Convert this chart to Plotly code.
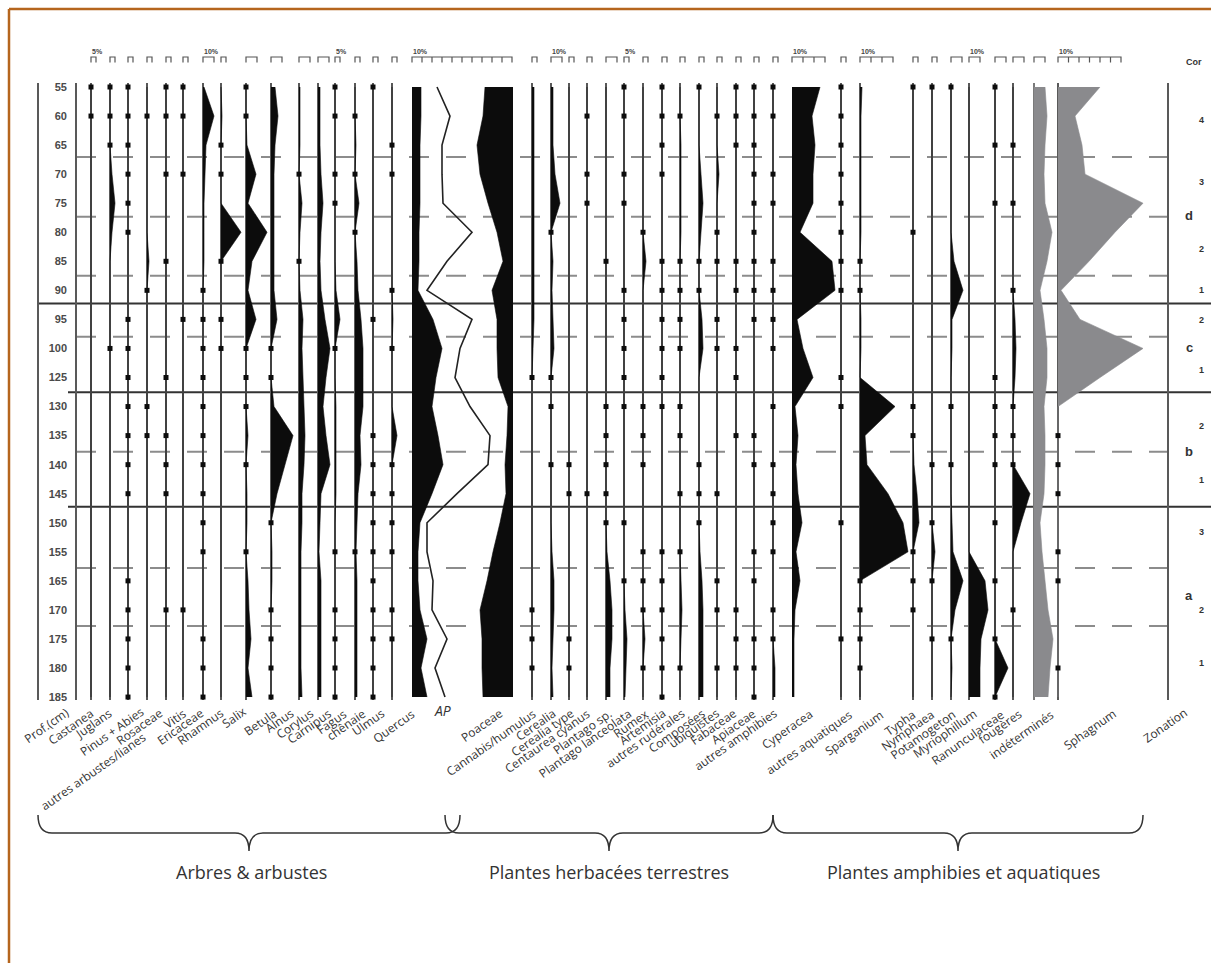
import plotly.graph_objects as go

W, H = 1211, 963
Y0, DY = 87.0, 29.05   # pixel row of the first sample level and level spacing


def py(y_px):
    """pixel row -> category index on the depth axis"""
    return (y_px - Y0) / DY


# ---------------- data ----------------
depths = [55, 60, 65, 70, 75, 80, 85, 90, 95, 100, 125, 130, 135, 140, 145, 150, 155, 165, 170, 175, 180, 185]

taxa = ["Castanea", "Juglans", "Pinus + Abies", "autres arbustes/lianes", "Rosaceae", "Vitis",
        "Ericaceae", "Rhamnus", "Salix", "Betula", "Alnus", "Corylus", "Carnipus", "Fagus",
        "chênaie", "Ulmus", "Quercus", "Poaceae", "Cannabis/humulus", "Cerealia", "Cerealia type",
        "Centaurea cyanus", "Plantago sp.", "Plantago lanceolata", "Rumex", "Artemisia",
        "autres rudérales", "Composées", "ubiquistes", "Fabaceae", "Apiaceae", "autres amphibies",
        "Cyperacea", "autres aquatiques", "Sparganium", "Typha", "Nymphaea", "Potamogeton",
        "Myriophillum", "Ranunculaceae", "fougères", "indéterminés", "Sphagnum"]

castanea      = [0, 0, 0, 0, 0, 0, 0, 0, 0, 0, 0, 0, 0, 0, 0, 0, 0, 0, 0, 0, 0, 0]
juglans       = [0, 0, 0, 2, 5, 2, 0, 0, 0, 0, 0, 0, 0, 0, 0, 0, 0, 0, 0, 0, 0, 0]
pinus_abies   = [0, 0, 0, 0, 0, 0, 0, 0, 0, 0, 0, 0, 0, 0, 0, 0, 0, 0, 0, 0, 0, 0]
autres_arb    = [0, 0, 0, 0, 0, 0, 2, 0, 0, 0, 0, 0, 0, 0, 0, 0, 0, 0, 0, 0, 0, 0]
rosaceae      = [0, 0, 0, 0, 0, 0, 0, 0, 0, 0, 0, 0, 0, 0, 0, 0, 0, 0, 0, 0, 0, 0]
vitis         = [0, 0, 0, 0, 0, 0, 0, 0, 0, 0, 0, 0, 0, 0, 0, 0, 0, 0, 0, 0, 0, 0]
ericaceae     = [1, 11, 3, 2, 1, 1, 1, 0, 0, 0, 0, 0, 0, 0, 0, 0, 0, 0, 0, 0, 0, 0]
rhamnus       = [0, 1, 0, 0, 0, 20, 0, 0, 0, 0, 0, 0, 0, 0, 0, 0, 0, 0, 0, 0, 0, 0]
salix         = [0, 0, 1, 10, 2, 21, 6, 2, 10, 0, 0, 0, 2, 0, 1, 1, 0, 2, 3, 5, 2, 6]
betula        = [4, 7, 4, 3, 3, 3, 3, 3, 6, 0, 0, 3, 22, 14, 6, 0, 1, 1, 0, 0, 0, 0]
alnus         = [1, 1, 1, 0, 3, 1, 0, 1, 4, 3, 4, 5, 6, 5, 3, 3, 2, 2, 2, 2, 2, 3]
corylus       = [2, 2, 2, 3, 5, 3, 2, 3, 7, 12, 8, 5, 8, 12, 3, 2, 1, 3, 3, 3, 3, 3]
carnipus      = [0, 0, 0, 0, 0, 0, 0, 1, 5, 0, 0, 1, 1, 1, 1, 0, 0, 0, 0, 0, 0, 0]
fagus         = [0, 0, 1, 0, 4, 0, 2, 3, 6, 8, 8, 8, 5, 6, 3, 2, 1, 2, 2, 2, 2, 2]
chenaie       = [0, 0, 0, 0, 0, 0, 0, 0, 0, 0, 0, 0, 0, 0, 0, 0, 0, 0, 0, 0, 0, 0]
ulmus         = [0, 0, 0, 0, 0, 0, 0, 0, 1, 0, 0, 0, 5, 0, 0, 0, 0, 0, 0, 0, 0, 0]
quercus       = [9, 9, 8, 8, 8, 7, 7, 6, 21, 30, 24, 20, 26, 31, 20, 8, 6, 6, 8, 15, 9, 15]
ap_curve      = [25, 38, 30, 30, 31, 60, 35, 15, 60, 48, 43, 58, 78, 76, 45, 15, 15, 21, 20, 35, 23, 33]
poaceae       = [28, 30, 36, 33, 25, 16, 10, 21, 16, 16, 15, 5, 6, 8, 7, 13, 20, 26, 33, 31, 31, 30]
cannabis      = [2, 2, 2, 2, 2, 2, 2, 2, 2, 1, 0, 0, 0, 0, 0, 0, 0, 0, 0, 0, 0, 0]
cerealia      = [2, 2, 2, 4, 9, 0, 2, 1, 2, 3, 0, 0, 0, 0, 0, 0, 1, 3, 3, 2, 1, 2]
cerealia_type = [0, 0, 0, 0, 0, 0, 0, 0, 0, 0, 0, 0, 0, 0, 0, 0, 0, 0, 0, 0, 0, 0]
centaurea     = [0, 0, 0, 0, 0, 0, 0, 0, 0, 0, 0, 0, 0, 0, 0, 0, 0, 0, 0, 0, 0, 0]
plantago_sp   = [0, 0, 0, 0, 0, 0, 0, 0, 0, 0, 0, 0, 0, 0, 0, 0, 1, 4, 6, 6, 4, 4]
plantago_lanc = [0, 0, 0, 0, 0, 0, 0, 0, 0, 0, 0, 0, 0, 0, 0, 0, 0, 0, 1, 3, 2, 1]
rumex         = [0, 0, 0, 0, 0, 0, 3, 0, 0, 0, 0, 0, 0, 0, 0, 0, 0, 0, 0, 2, 0, 0]
artemisia     = [0, 0, 0, 0, 0, 0, 0, 0, 0, 0, 0, 0, 0, 0, 0, 0, 0, 0, 0, 0, 0, 0]
ruderales     = [0, 0, 1, 1, 1, 1, 0, 0, 0, 0, 0, 0, 0, 0, 0, 0, 0, 1, 2, 1, 0, 0]
composees     = [0, 0, 0, 2, 4, 2, 0, 0, 3, 4, 0, 0, 0, 0, 0, 0, 1, 3, 4, 4, 4, 4]
ubiquistes    = [0, 0, 0, 2, 0, 0, 0, 0, 0, 0, 0, 0, 0, 0, 0, 0, 0, 0, 0, 0, 0, 0]
fabaceae      = [0, 0, 0, 0, 0, 0, 0, 0, 0, 0, 0, 0, 0, 0, 0, 0, 0, 0, 0, 0, 0, 0]
apiaceae      = [0, 0, 0, 0, 0, 0, 0, 0, 0, 0, 0, 0, 0, 0, 0, 0, 0, 0, 0, 0, 0, 0]
amphibies     = [0, 0, 0, 0, 0, 0, 0, 0, 0, 0, 0, 0, 0, 0, 0, 0, 0, 0, 0, 0, 2, 2]
cyperacea     = [28, 20, 23, 21, 21, 8, 40, 43, 5, 11, 21, 3, 6, 4, 6, 10, 4, 8, 3, 2, 2, 2]
aquatiques    = [0, 0, 0, 0, 0, 0, 0, 0, 0, 0, 0, 0, 0, 0, 0, 0, 0, 0, 0, 0, 0, 0]
sparganium    = [2, 1, 1, 1, 1, 1, 0, 0, 1, 1, 0, 35, 5, 7, 28, 43, 48, 0, 0, 0, 0, 0]
typha         = [0, 0, 0, 0, 0, 0, 0, 0, 0, 0, 0, 0, 0, 1, 4, 6, 0, 0, 0, 0, 0, 0]
nymphaea      = [0, 0, 0, 0, 0, 0, 0, 0, 0, 0, 0, 0, 0, 0, 0, 0, 3, 0, 0, 0, 0, 0]
potamogeton   = [0, 0, 0, 0, 0, 0, 3, 12, 1, 1, 0, 0, 0, 0, 0, 1, 2, 12, 4, 0, 1, 0]
myriophillum  = [0, 0, 0, 0, 0, 0, 0, 0, 0, 0, 0, 0, 0, 0, 0, 0, 0, 16, 19, 12, 11, 11]
ranunculaceae = [0, 0, 0, 0, 0, 0, 0, 0, 0, 0, 0, 0, 0, 0, 0, 0, 0, 0, 0, 0, 13, 0]
fougeres      = [0, 0, 0, 0, 0, 0, 0, 0, 2, 3, 2, 0, 0, 0, 17, 8, 0, 0, 0, 0, 0, 0]
indetermines  = [11, 13, 11, 10, 11, 18, 13, 6, 10, 13, 13, 10, 11, 11, 10, 6, 8, 11, 14, 19, 16, 14]
sphagnum      = [42, 17, 24, 27, 85, 57, 31, 3, 22, 85, 42, 0, 0, 0, 0, 0, 0, 0, 0, 0, 0, 0]

values = [castanea, juglans, pinus_abies, autres_arb, rosaceae, vitis, ericaceae, rhamnus, salix,
          betula, alnus, corylus, carnipus, fagus, chenaie, ulmus, quercus, poaceae, cannabis,
          cerealia, cerealia_type, centaurea, plantago_sp, plantago_lanc, rumex, artemisia,
          ruderales, composees, ubiquistes, fabaceae, apiaceae, amphibies, cyperacea, aquatiques,
          sparganium, typha, nymphaea, potamogeton, myriophillum, ranunculaceae, fougeres,
          indetermines, sphagnum]

# presence (<1 %) dots, by depth
dots = [
    [55, 60],                                                              # Castanea
    [55, 60, 65, 100],                                                     # Juglans
    [55, 60, 65, 70, 75, 80, 95, 100, 125, 130, 135, 140, 145, 165, 170, 175, 180, 185],
    [60, 90, 130, 135],                                                    # autres arbustes
    [55, 60, 70, 85, 125, 135, 140, 145, 170],                             # Rosaceae
    [55, 60, 70, 95, 170],                                                 # Vitis
    [90, 95, 100, 125, 130, 135, 140, 145, 150, 155, 175, 180, 185],       # Ericaceae
    [65, 70, 85, 95, 100],                                                 # Rhamnus
    [55, 60, 100, 125, 130, 140, 155],                                     # Salix
    [100, 125, 150, 170, 175, 180, 185],                                   # Betula
    [70, 85],                                                              # Alnus
    [],                                                                    # Corylus
    [55, 60, 70, 75, 100, 155, 170, 175, 180, 185],                        # Carnipus
    [60, 70, 80, 155],                                                     # Fagus
    [55, 95, 135, 140, 145, 150, 155, 165, 170, 175, 180, 185],            # chênaie
    [65, 70, 90, 100, 140, 145, 150, 155, 170, 175],                       # Ulmus
    [],                                                                    # Quercus
    [],                                                                    # Poaceae
    [125, 170, 175, 180],                                                  # Cannabis
    [80, 125, 130, 140],                                                   # Cerealia
    [140, 145, 175, 180],                                                  # Cerealia type
    [60, 70, 75, 145],                                                     # Centaurea
    [85, 130, 135, 140, 145, 150],                                         # Plantago sp.
    [55, 60, 70, 75, 90, 95, 100, 125, 130, 150, 165],                     # Plantago lanc.
    [80, 130, 135, 140, 155, 165, 170, 180],                               # Rumex
    [55, 60, 65, 70, 85, 90, 95, 100, 125, 130, 155, 165, 170, 175, 180, 185],
    [60, 85, 90, 95, 100, 130, 135, 145, 155, 180],                        # rudérales
    [55, 85, 90, 140, 145, 150],                                           # Composées
    [60, 80, 85, 95, 100, 145, 165, 170, 180],                             # ubiquistes
    [55, 60, 65, 85, 90, 100, 125, 135, 170, 175, 180],                    # Fabaceae
    [55, 60, 65, 70, 75, 80, 85, 90, 95, 135, 140, 155, 165, 175, 180, 185],
    [55, 60, 70, 75, 85, 90, 95, 100, 130, 140, 145, 150, 155, 170, 175],  # amphibies
    [],                                                                    # Cyperacea
    [55, 60, 65, 70, 75, 80, 85, 90, 125, 130, 150, 175],                  # aquatiques
    [85, 90, 165, 170, 175, 180],                                          # Sparganium
    [55, 80, 130, 135, 155, 165, 170],                                     # Typha
    [55, 140, 150, 165, 175],                                              # Nymphaea
    [55, 130, 140, 175],                                                   # Potamogeton
    [],                                                                    # Myriophillum
    [55, 65, 75, 125, 130, 135, 140, 150, 165, 175, 185],                  # Ranunculaceae
    [65, 75, 90, 130, 135, 140, 170],                                      # fougères
    [],                                                                    # indéterminés
    [135, 140, 145, 155, 165, 180],                                        # Sphagnum
]

groups = ["Arbres & arbustes", "Plantes herbacées terrestres", "Plantes amphibies et aquatiques"]

# zone boundaries (between sample levels, in level units)
major_bounds = [7.45, 10.51, 14.45]
minor_bounds = [2.41, 4.47, 6.5, 8.6, 12.56, 16.56, 18.55]
zone_letters = [("d", 4.44), ("c", 8.95), ("b", 12.53), ("a", 17.49)]
zone_digits = [("4", 1.14), ("3", 3.27), ("2", 5.58), ("1", 6.99), ("2", 8.02), ("1", 9.74),
               ("2", 11.67), ("1", 13.53), ("3", 15.32), ("2", 18.0), ("1", 19.83)]
scale_labels = [("Castanea", "5%"), ("Ericaceae", "10%"), ("Carnipus", "5%"), ("Quercus", "10%"),
                ("Cerealia", "10%"), ("Plantago lanceolata", "5%"), ("Cyperacea", "10%"),
                ("Sparganium", "10%"), ("Myriophillum", "10%"), ("Sphagnum", "10%")]

# ---------------- layout positions (pixels) ----------------
col_x = [91, 110, 128, 147, 166, 183, 203, 221, 246, 271, 299, 318, 335, 355, 373, 392, 412, 513,
         532, 551, 569, 587, 606, 624, 643, 662, 680, 699, 717, 736, 754, 773, 792, 841, 860, 913,
         932, 951, 969, 995, 1013, 1034, 1058]
label_end_x = [100, 118, 150, 152, 169, 192, 210, 230, 252, 282, 300, 320, 337, 353, 372, 390, 420,
               508, 542, 562, 580, 597, 618, 637, 655, 672, 690, 712, 725, 743, 762, 783, 818, 858,
               890, 922, 940, 962, 983, 1010, 1028, 1060, 1122]
label_top_y = [702, 702, 701, 726, 702, 702, 702, 702, 700, 702, 702, 702, 702, 702, 702, 702, 703,
               702, 702, 702, 702, 702, 702, 702, 702, 702, 702, 702, 702, 702, 702, 702, 703, 703,
               703, 703, 703, 703, 703, 703, 702, 703, 703]
glyph = {"P": (1, 5), "B": (1, 11)}
glyph_type = ["P", "P", "P", "P", "P", "P", "B", "P", "B", "B", "B", "B", "P", "P", "P", "P", (10, 10),
              None, "P", "B", "P", "P", "B", "P", "P", "P", "P", "P", "P", "P", "P", "P", (3, 11), "P",
              (3, 11), "P", "P", "B", "B", "B", "B", "B", (6, 10.5)]

BLACK = "#0c0c0c"
GREY_FILL = "#8a8a8d"
LINE = "#595959"
PAD, SPAN = 10, 120

cats = [str(d) for d in depths]
fig = go.Figure()
shapes, annotations = [], []
axes = {}

for k, (name, xb, vals, dts) in enumerate(zip(taxa, col_x, values, dots), start=1):
    axname = "xaxis" if k == 1 else f"xaxis{k}"
    xref = "x" if k == 1 else f"x{k}"
    rev = name == "Poaceae"
    if rev:
        dom = [(xb + PAD - SPAN) / W, (xb + PAD) / W]
        rng = [SPAN - PAD, -PAD]
    else:
        dom = [(xb - PAD) / W, (xb - PAD + SPAN) / W]
        rng = [-PAD, SPAN - PAD]
    axes[axname] = dict(domain=dom, range=rng, anchor="y", visible=False, fixedrange=True)

    grey = name in ("indéterminés", "Sphagnum")
    col = GREY_FILL if grey else BLACK
    # baseline of the column
    if name not in ("Quercus", "Poaceae", "Cyperacea"):
        shapes.append(dict(type="line", xref=xref, yref="y", x0=0, x1=0, y0=py(83), y1=py(700),
                           line=dict(color="#7a7a7a" if name == "indéterminés" else LINE, width=2),
                           layer="below"))
    fig.add_trace(go.Scatter(x=vals, y=cats, xaxis=xref, yaxis="y", mode="lines",
                             line=dict(color=col, width=0.6), fill="tozerox", fillcolor=col,
                             hoverinfo="skip", showlegend=False))
    if name == "Quercus":
        fig.add_trace(go.Scatter(x=ap_curve, y=cats, xaxis=xref, yaxis="y", mode="lines",
                                 line=dict(color="#222222", width=1.6), hoverinfo="skip",
                                 showlegend=False))
    if dts:
        fig.add_trace(go.Scatter(x=[0 for _ in dts], y=[str(d) for d in dts], xaxis=xref,
                                 yaxis="y", mode="markers", cliponaxis=False,
                                 marker=dict(symbol="square", size=5, color=BLACK),
                                 hoverinfo="skip", showlegend=False))
    # scale glyph on top
    g = glyph_type[k - 1]
    if g is not None:
        n, w = glyph[g] if isinstance(g, str) else g
        top, bot = py(57), py(62.5)
        path = f"M 0,{bot} L 0,{top} L {n * w},{top} L {n * w},{bot}"
        for i in range(1, n):
            path += f" M {i * w},{top} L {i * w},{bot}"
        shapes.append(dict(type="path", xref=xref, yref="y", path=path,
                           line=dict(color="#555555", width=1.2)))
    # taxon name
    annotations.append(dict(text=name, xref="paper", yref="y", x=label_end_x[k - 1] / W,
                            y=py(label_top_y[k - 1]), xanchor="right", yanchor="top",
                            textangle=-35, showarrow=False,
                            font=dict(family="Open Sans", size=12, color="#333333")))

for tname, txt in scale_labels:
    k = taxa.index(tname) + 1
    xref = "x" if k == 1 else f"x{k}"
    annotations.append(dict(text=f"<b>{txt}</b>", xref=xref, yref="y", x=-1, y=py(51),
                            xanchor="left", yanchor="middle", showarrow=False,
                            font=dict(family="Liberation Sans", size=7, color="#444444")))

# extra labels
annotations.append(dict(text="Prof.(cm)", xref="paper", yref="y", x=75 / W, y=py(701),
                        xanchor="right", yanchor="top", textangle=-35, showarrow=False,
                        font=dict(family="Open Sans", size=12, color="#333333")))
annotations.append(dict(text="Zonation", xref="paper", yref="y", x=1193 / W, y=py(701),
                        xanchor="right", yanchor="top", textangle=-35, showarrow=False,
                        font=dict(family="Open Sans", size=12, color="#333333")))
annotations.append(dict(text="<i>AP</i>", xref="paper", yref="y", x=443 / W, y=py(710),
                        xanchor="center", yanchor="middle", showarrow=False,
                        font=dict(family="Open Sans", size=14, color="#333333")))
annotations.append(dict(text="<b>Cor</b>", xref="paper", yref="y", x=1194 / W, y=py(62),
                        xanchor="center", yanchor="middle", showarrow=False,
                        font=dict(family="Liberation Sans", size=9, color="#333333")))

for txt, yy in zone_digits:
    annotations.append(dict(text=f"<b>{txt}</b>", xref="paper", yref="y", x=1201 / W, y=yy,
                            xanchor="center", yanchor="middle", showarrow=False,
                            font=dict(family="Liberation Sans", size=9, color="#333333")))
for txt, yy in zone_letters:
    annotations.append(dict(text=f"<b>{txt}</b>", xref="paper", yref="y", x=1189 / W, y=yy,
                            xanchor="center", yanchor="middle", showarrow=False,
                            font=dict(family="Liberation Sans", size=13, color="#333333")))

group_cx = [251, 609, 963]
for txt, cx in zip(groups, group_cx):
    annotations.append(dict(text=txt, xref="paper", yref="y", x=cx / W, y=py(872),
                            xanchor="center", yanchor="middle", showarrow=False,
                            font=dict(family="Open Sans", size=18, color="#333333")))

# zone lines
for b in major_bounds:
    x_start = 38 if b < 8 else 68
    shapes.append(dict(type="line", xref="paper", yref="y", x0=x_start / W, x1=1, y0=b, y1=b,
                       line=dict(color="#333333", width=2), layer="below"))
for b in minor_bounds:
    shapes.append(dict(type="line", xref="paper", yref="y", x0=76 / W, x1=1182 / W, y0=b, y1=b,
                       line=dict(color="#8c8c8c", width=2, dash="20px,17px"), layer="below"))

# frame lines of depth column and zonation column
for xl in (38, 76, 1168):
    shapes.append(dict(type="line", xref="paper", yref="y", x0=xl / W, x1=xl / W, y0=py(83),
                       y1=py(700), line=dict(color=LINE, width=2), layer="below"))


# braces
def brace(x0, x1, ytop, ytip):
    xc = (x0 + x1) / 2
    ym = (ytop + ytip) / 2
    r = 14
    pts = lambda x, y: f"{x / W},{py(y)}"
    return (f"M {pts(x0, ytop)} Q {pts(x0, ym)} {pts(x0 + r, ym)} L {pts(xc - r, ym)} "
            f"Q {pts(xc, ym)} {pts(xc, ytip)} Q {pts(xc, ym)} {pts(xc + r, ym)} "
            f"L {pts(x1 - r, ym)} Q {pts(x1, ym)} {pts(x1, ytop)}")


for (bx0, bx1) in [(38, 460), (445, 773), (773, 1143)]:
    shapes.append(dict(type="path", xref="paper", yref="y", path=brace(bx0, bx1, 815, 851),
                       line=dict(color="#333333", width=1.5)))

# orange frame
shapes.append(dict(type="line", xref="paper", yref="paper", x0=9 / W, x1=1, y0=1 - 9 / H,
                   y1=1 - 9 / H, line=dict(color="#B5651D", width=2.5)))
shapes.append(dict(type="line", xref="paper", yref="paper", x0=9 / W, x1=9 / W, y0=0,
                   y1=1 - 9 / H, line=dict(color="#B5651D", width=2.5)))

fig.update_layout(
    width=W, height=H, autosize=False,
    margin=dict(l=0, r=0, t=0, b=0),
    paper_bgcolor="white", plot_bgcolor="rgba(0,0,0,0)",
    showlegend=False,
    shapes=shapes, annotations=annotations,
    yaxis=dict(type="category", categoryorder="array", categoryarray=cats,
               range=[py(H), py(0)], domain=[0, 1], anchor="free", position=67 / W,
               showgrid=False, zeroline=False, showline=False, ticks="",
               tickvals=cats, ticktext=[f"<b>{c}</b>" for c in cats],
               tickfont=dict(family="Liberation Sans", size=11, color="#4a4a4a"),
               fixedrange=True),
    **axes,
)

fig.write_html("out.html", include_plotlyjs=True, config={"displayModeBar": False},
               post_script="document.body.style.margin='0px';")
